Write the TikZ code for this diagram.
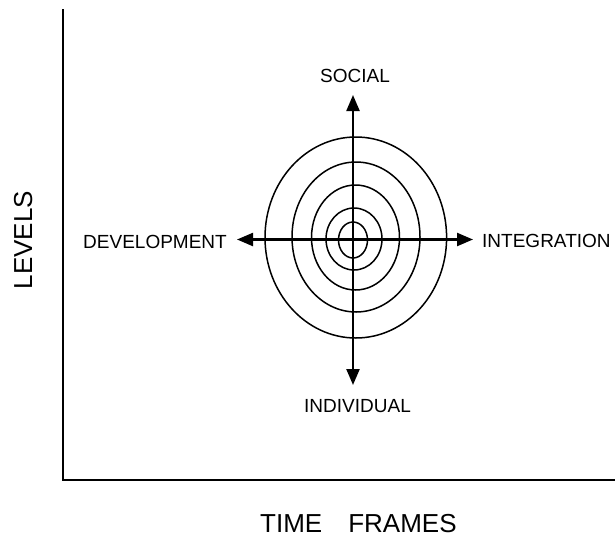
\documentclass[tikz,border=0pt]{standalone}
\usepackage{fontspec}
\setmainfont{Liberation Sans}
\usetikzlibrary{arrows.meta}
\tikzset{
  lbl/.style={inner sep=0pt, font=\fontsize{19}{22}\selectfont},
  axlbl/.style={inner sep=0pt, font=\fontsize{26}{30}\selectfont},
  axisline/.style={line width=2.6pt},
  dirarrow/.style={line width=2.3pt, -{Triangle[length=16pt,width=13pt]}},
  ring/.style={line width=1.5pt}
}
\begin{document}
\begin{tikzpicture}[x=1pt,y=-1pt]
\useasboundingbox (0,0) rectangle (615,536);
% axes
\coordinate (ytop) at (63,9);
\coordinate (orig) at (63,480);
\coordinate (xend) at (615,480);
\draw[axisline] (ytop) -- (orig) -- (xend);
% rings
\draw[ring] (355.8,237.5) ellipse [x radius=90.8, y radius=100.5];
\draw[ring] (356,237) ellipse [x radius=64, y radius=75];
\draw[ring] (355.5,237.5) ellipse [x radius=44, y radius=52.5];
\draw[ring] (354,239) ellipse [x radius=28, y radius=31];
\draw[ring] (353,240) ellipse [x radius=14.5, y radius=18];
% arrows
\coordinate (c) at (353,239.5);
\coordinate (tipU) at (353,95);
\coordinate (tipD) at (353,385);
\coordinate (tipL) at (237,239.5);
\coordinate (tipR) at (473,239.5);
\draw[dirarrow] (c) -- (tipU);
\draw[dirarrow] (c) -- (tipD);
\draw[dirarrow] (c) -- (tipL);
\draw[dirarrow] (c) -- (tipR);
% labels
\node[lbl, anchor=base] (social) at (355,82) {SOCIAL};
\node[lbl, anchor=base] (indiv) at (357.5,412) {INDIVIDUAL};
\node[lbl, anchor=base east] (dev) at (227,248) {DEVELOPMENT};
\node[lbl, anchor=base west] (integ) at (482,247) {INTEGRATION};
\node[axlbl, anchor=base west] (time) at (260,532) {TIME\hspace{26pt}FRAMES};
\node[axlbl, anchor=base, rotate=90] (levels) at (32,240) {LEVELS};
\end{tikzpicture}
\end{document}
